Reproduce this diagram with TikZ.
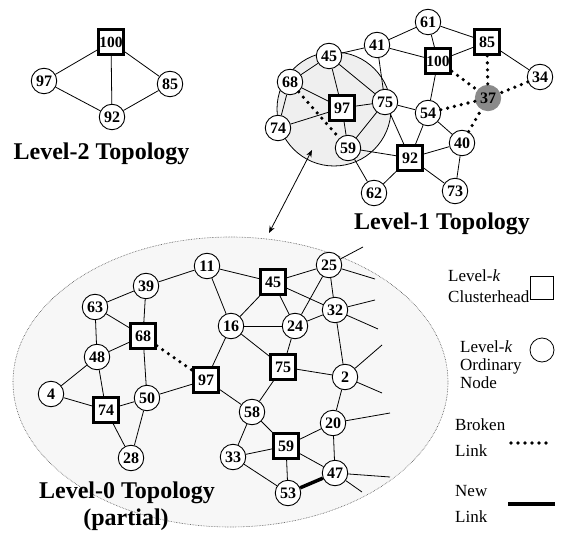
\documentclass[tikz,border=0pt]{standalone}
\usepackage{fontspec}
\setmainfont{Liberation Serif}
\usetikzlibrary{arrows.meta}
\definecolor{ellfill}{HTML}{F7F7F7}
\definecolor{cirfill}{HTML}{EFEFEF}
\definecolor{grayn}{HTML}{8A8A8A}
\begin{document}
\begin{tikzpicture}[x=1pt,y=-1pt,
  cn/.style={circle,draw,line width=0.9pt,fill=white,minimum size=25.5pt,inner sep=0pt,font=\fontsize{16}{16}\selectfont\bfseries},
  bn/.style={rectangle,draw,line width=2.8pt,fill=white,minimum size=25pt,inner sep=0pt,font=\fontsize{16}{16}\selectfont\bfseries},
  gn/.style={circle,draw=grayn,fill=grayn,line width=0.8pt,minimum size=25.5pt,inner sep=0pt,font=\fontsize{16}{16}\selectfont\bfseries},
  ln/.style={line width=0.8pt},
  brk/.style={line width=3.6pt,line cap=round,dash pattern=on 0pt off 7pt},
  newln/.style={line width=3.5pt},
  ttl/.style={font=\fontsize{24}{26}\selectfont\bfseries,anchor=base,inner sep=0pt},
  lgd/.style={font=\fontsize{17}{20}\selectfont,anchor=base west,inner sep=0pt},
]
\useasboundingbox (0,0) rectangle (567,534);

% background shapes
\draw[fill=ellfill,draw=black!70,densely dotted,line width=0.6pt] (230.5,382) ellipse [x radius=217.5pt, y radius=145pt];
\draw[fill=cirfill,line width=0.8pt] (334,109) circle [radius=57pt];

% ---------- Level-2 ----------
\node[bn,font=\fontsize{15.5}{16}\selectfont\bfseries] (t100) at (111,42) {100};
\node[cn] (t97) at (44,81) {97};
\node[cn] (t85) at (170,84) {85};
\node[cn] (t92) at (112,117) {92};
\draw[ln] (t100) -- (t97);
\draw[ln] (t100) -- (t85);
\draw[ln] (t100) -- (t92);
\draw[ln] (t97) -- (t92);
\draw[ln] (t85) -- (t92);
\node[ttl] (lab2) at (101.5,160) {Level-2 Topology};

% ---------- Level-1 ----------
\node[cn] (a61) at (428,22) {61};
\node[bn] (a85) at (487,42) {85};
\node[cn] (a41) at (377,45) {41};
\node[bn,font=\fontsize{15.5}{16}\selectfont\bfseries] (a100) at (438,61) {100};
\node[cn] (a45) at (329,56) {45};
\node[cn] (a68) at (290,82) {68};
\node[bn] (a97) at (342,108) {97};
\node[cn] (a75) at (385,102) {75};
\node[cn] (a54) at (428,113) {54};
\node[gn] (a37) at (488,98) {37};
\node[cn] (a34) at (540,77) {34};
\node[cn] (a74) at (278,128) {74};
\node[cn] (a59) at (348,148) {59};
\node[cn] (a40) at (462,143) {40};
\node[bn] (a92) at (410,158) {92};
\node[cn] (a62) at (374,193) {62};
\node[cn] (a73) at (455,191) {73};

\foreach \u/\v in {a61/a41,a61/a85,a61/a100,a41/a100,a41/a45,a41/a75,a85/a100,a85/a34,
  a100/a54,a45/a68,a45/a97,a45/a75,a68/a74,a68/a97,a74/a97,a97/a75,a97/a59,a75/a59,
  a75/a54,a75/a92,a59/a92,a59/a62,a92/a62,a92/a54,a92/a40,a92/a73,a54/a40,a40/a73}
  \draw[ln] (\u) -- (\v);
\foreach \u/\v in {a68/a59,a100/a37,a85/a37,a34/a37,a54/a37,a40/a37}
  \draw[brk] (\u) -- (\v);
\node[ttl] (lab1) at (442,230) {Level-1 Topology};

% arrow between levels
\coordinate (ar1) at (269,233);
\coordinate (ar2) at (312,150);
\draw[line width=0.8pt,{Stealth[length=7pt,width=5.5pt]}-{Stealth[length=7pt,width=5.5pt]}] (ar1) -- (ar2);

% ---------- Level-0 ----------
\node[cn] (b11) at (207,266) {11};
\node[cn] (b39) at (146,286) {39};
\node[cn] (b63) at (95,307) {63};
\node[bn] (b68) at (143,336) {68};
\node[cn] (b48) at (97,357) {48};
\node[cn] (b16) at (231,326) {16};
\node[bn] (b97) at (206,380) {97};
\node[cn] (b4) at (51,394) {4};
\node[bn] (b74) at (106,410) {74};
\node[cn] (b50) at (147,398) {50};
\node[cn] (b28) at (131,458) {28};
\node[cn] (b33) at (233,457) {33};
\node[bn] (b45) at (273,282) {45};
\node[cn] (b25) at (329,265) {25};
\node[cn] (b32) at (335,310) {32};
\node[cn] (b24) at (295,326) {24};
\node[bn] (b75) at (283,367) {75};
\node[cn] (b2) at (345,377) {2};
\node[cn] (b58) at (252,412) {58};
\node[cn] (b20) at (333,423) {20};
\node[bn] (b59) at (286,446) {59};
\node[cn] (b47) at (335,473) {47};
\node[cn] (b53) at (288,493) {53};

\coordinate (d1) at (363,247);
\coordinate (d2) at (375,279);
\coordinate (d3) at (375,300);
\coordinate (d4) at (378,329);
\coordinate (d5) at (382,345);
\coordinate (d6) at (382,393);
\coordinate (d7) at (390,413);
\coordinate (d8) at (390,477);
\coordinate (d9) at (362,492);

\foreach \u/\v in {b11/b39,b11/b45,b11/b16,b39/b63,b39/b68,b63/b68,b63/b48,b48/b68,
  b48/b4,b48/b74,b4/b74,b74/b50,b74/b28,b68/b50,b50/b28,b50/b97,b16/b97,b16/b45,
  b16/b24,b16/b75,b45/b25,b45/b24,b45/b32,b25/b24,b25/b32,b24/b32,b24/b75,b32/b2,
  b75/b2,b75/b58,b97/b58,b58/b33,b58/b59,b2/b20,b20/b59,b20/b47,b59/b33,b59/b53,
  b59/b47,b33/b53,
  b25/d1,b25/d2,b32/d3,b32/d4,b2/d5,b2/d6,b20/d7,b47/d8,b47/d9}
  \draw[ln] (\u) -- (\v);
\draw[brk] (b68) -- (b97);
\draw[newln] (b53) -- (b47);

\node[ttl] (lab0) at (127,498) {Level-0 Topology};
\node[ttl] (lab0b) at (126,525) {(partial)};

% ---------- Legend ----------
\node[lgd] (g1a) at (448,282) {Level-\textit{k}};
\node[lgd] (g1b) at (448,303) {Clusterhead};
\node[rectangle,draw,line width=0.8pt,minimum size=23pt,inner sep=0pt] (gsq) at (542,288) {};

\node[lgd] (g2a) at (460,352) {Level-\textit{k}};
\node[lgd] (g2b) at (460,370) {Ordinary};
\node[lgd] (g2c) at (460,388) {Node};
\node[circle,draw,line width=0.8pt,minimum size=24pt,inner sep=0pt] (gci) at (542,350) {};

\node[lgd] (g3a) at (455,430) {Broken};
\node[lgd] (g3b) at (455,456) {Link};
\coordinate (gb1) at (511,443);
\coordinate (gb2) at (553,443);
\draw[brk] (gb1) -- (gb2);

\node[lgd] (g4a) at (455,496) {New};
\node[lgd] (g4b) at (455,522) {Link};
\coordinate (gn1) at (508,504);
\coordinate (gn2) at (555,504);
\draw[newln] (gn1) -- (gn2);
\end{tikzpicture}
\end{document}
